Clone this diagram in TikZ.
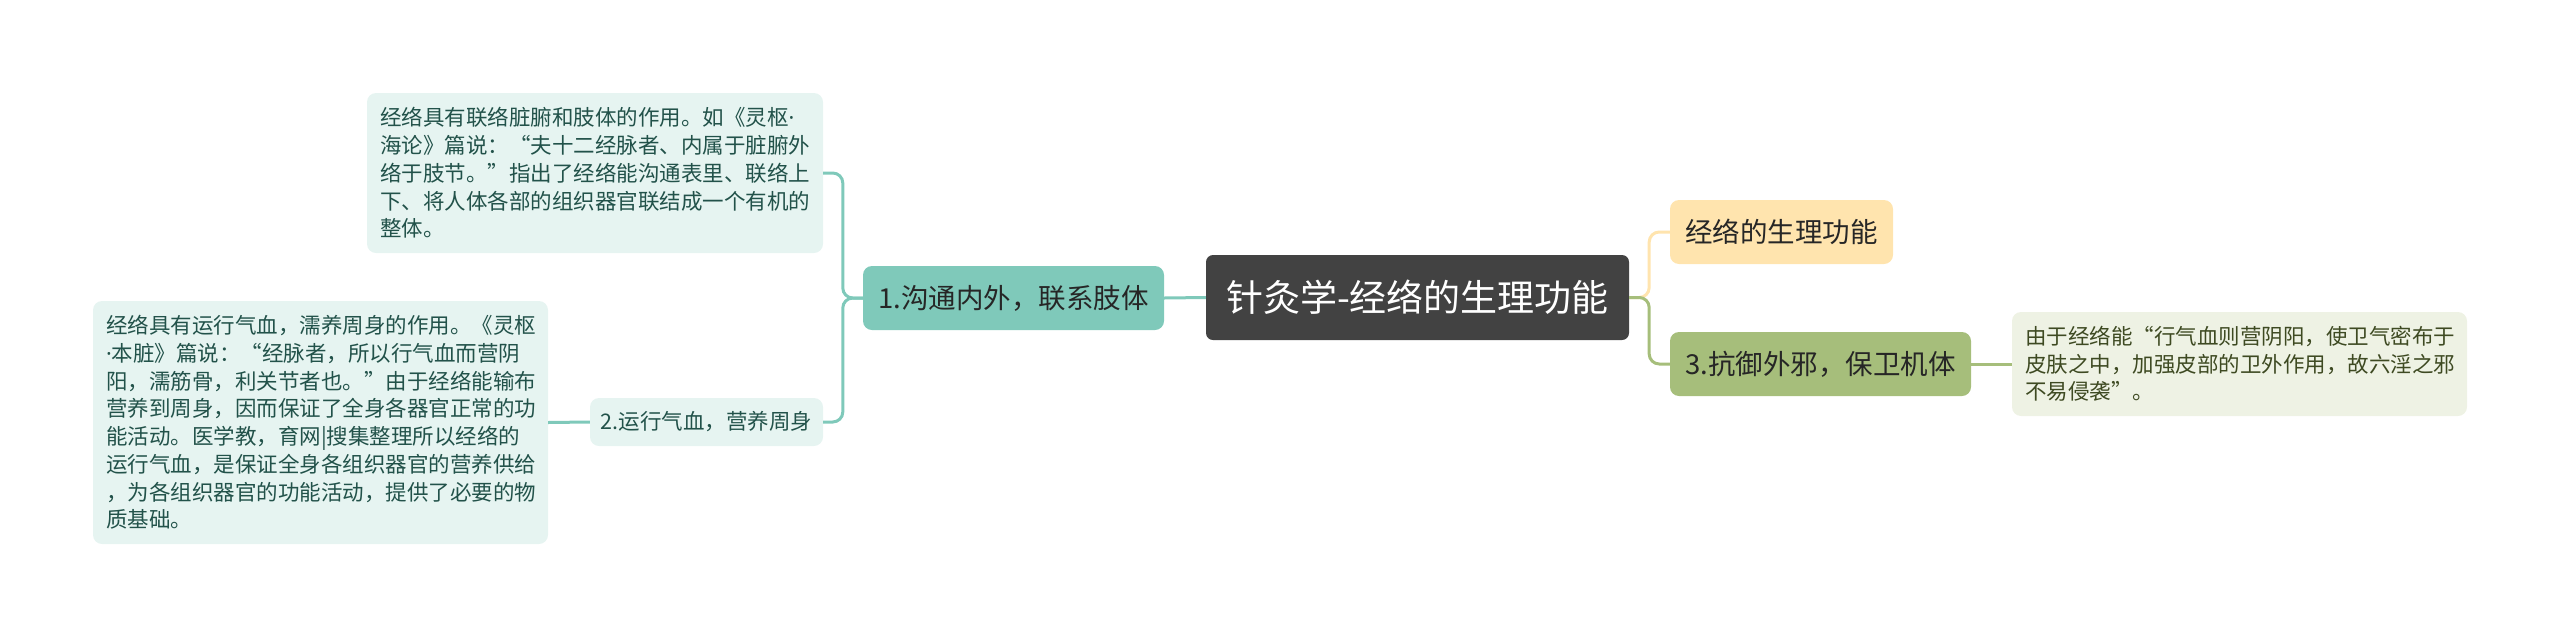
\documentclass[tikz,border=0pt]{standalone}
\usepackage{fontspec}
\setmainfont{Noto Sans CJK SC}
\newfontfamily\latinfont{Noto Sans}
\newcommand{\dotmid}{{\latinfont ·}}
\definecolor{rootgray}{HTML}{424242}
\definecolor{tealfill}{HTML}{7FC9BA}
\definecolor{tealleaf}{HTML}{E6F4F1}
\definecolor{tealtext}{HTML}{22524A}
\definecolor{yellowfill}{HTML}{FFE4AE}
\definecolor{greenfill}{HTML}{A6BE7B}
\definecolor{greenleaf}{HTML}{EEF2E4}
\definecolor{greentext}{HTML}{3E4A22}
\begin{document}
\begin{tikzpicture}[x=1pt, y=-1pt,
    root/.style={fill=rootgray, text=white, rounded corners=7pt, inner sep=0pt,
        font=\fontsize{37}{44}\selectfont},
    topic/.style={rounded corners=9pt, inner sep=0pt, minimum height=64pt,
        font=\fontsize{27.5}{33}\selectfont},
    leaf/.style={rounded corners=9pt, inner xsep=13pt, inner ysep=0pt, align=left,
        font=\fontsize{21.5}{27.7}\selectfont},
    tealline/.style={draw=tealfill, line width=3pt, rounded corners=10pt},
    yellowline/.style={draw=yellowfill, line width=3pt, rounded corners=10pt},
    greenline/.style={draw=greenfill, line width=3pt, rounded corners=10pt}]
        \useasboundingbox (0,0) rectangle (2560,638);
        \node[root, minimum width=423pt, minimum height=85pt] (root) at (1417.5,297.5) {针灸学-经络的生理功能};
        \node[topic, fill=tealfill, text=black!85, minimum width=301pt] (link) at (1013.5,298) {1.沟通内外，联系肢体};
        \node[leaf, fill=tealleaf, text=tealtext, text width=430pt, minimum height=160pt] (linkleaf) at (595,173)
            {经络具有联络脏腑和肢体的作用。如《灵枢\dotmid\\海论》篇说：“夫十二经脉者、内属于脏腑外\\络于肢节。”指出了经络能沟通表里、联络上\\下、将人体各部的组织器官联结成一个有机的\\整体。};
        \node[topic, fill=tealleaf, text=tealtext, minimum width=233pt, minimum height=48pt,
            font=\fontsize{21.5}{26}\selectfont] (blood) at (706.5,422) {2.运行气血，营养周身};
        \node[leaf, fill=tealleaf, text=tealtext, text width=429pt, minimum height=243pt] (bloodleaf) at (320.5,422.5)
            {经络具有运行气血，濡养周身的作用。《灵枢\\\dotmid 本脏》篇说：“经脉者，所以行气血而营阴\\阳，濡筋骨，利关节者也。”由于经络能输布\\营养到周身，因而保证了全身各器官正常的功\\能活动。医学教，育网|搜集整理所以经络的\\运行气血，是保证全身各组织器官的营养供给\\，为各组织器官的功能活动，提供了必要的物\\质基础。};
        \node[topic, fill=yellowfill, text=black!85, minimum width=223pt] (title) at (1781.5,232) {经络的生理功能};
        \node[topic, fill=greenfill, text=black!85, minimum width=301pt] (guard) at (1820.5,364) {3.抗御外邪，保卫机体};
        \node[leaf, fill=greenleaf, text=greentext, text width=429pt, minimum height=104pt] (guardleaf) at (2239.5,364)
            {由于经络能“行气血则营阴阳，使卫气密布于\\皮肤之中，加强皮部的卫外作用，故六淫之邪\\不易侵袭”。};
        \draw[tealline] (root.west) -- (link.east);
        \draw[tealline] (link.west) -- ++(-20,0) |- (linkleaf.east);
        \draw[tealline] (link.west) -- ++(-20,0) |- (blood.east);
        \draw[tealline] (blood.west) -- (bloodleaf.east);
        \draw[yellowline] (root.east) -- ++(20,0) |- (title.west);
        \draw[greenline] (root.east) -- ++(20,0) |- (guard.west);
        \draw[greenline] (guard.east) -- (guardleaf.west);
    \end{tikzpicture}
\end{document}
